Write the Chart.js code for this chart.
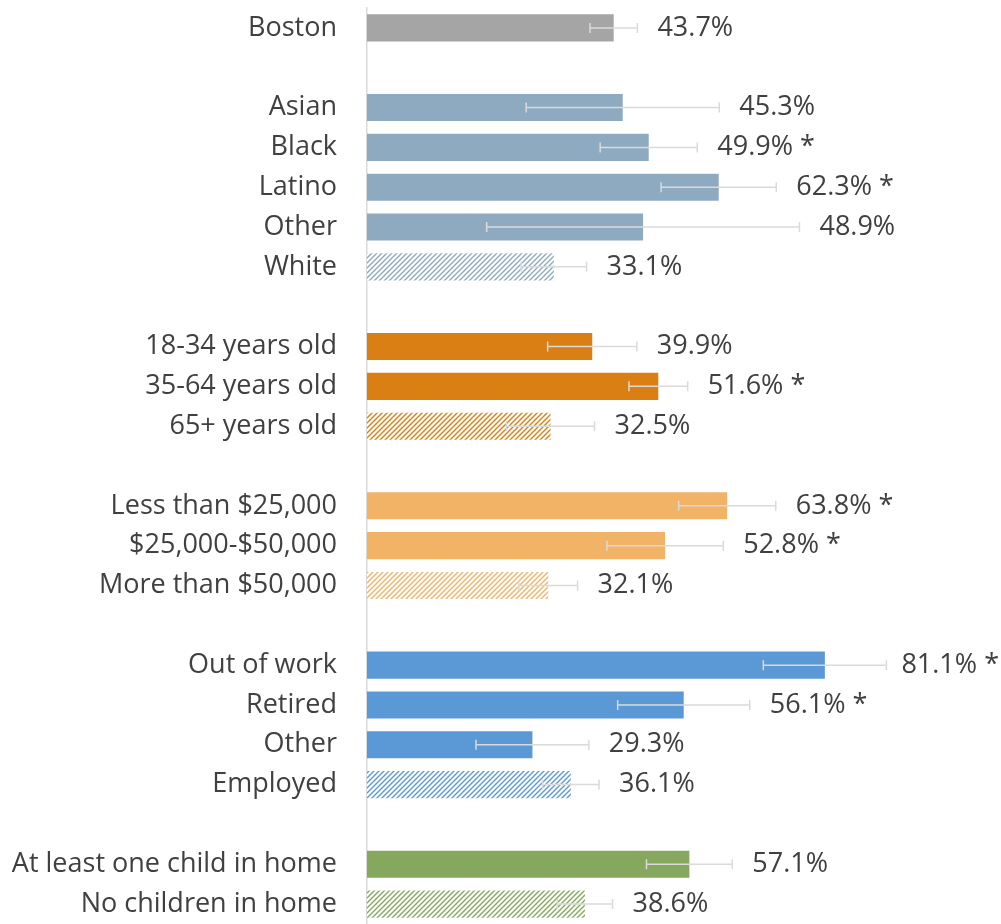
<!DOCTYPE html>
<html>
<head>
<meta charset="utf-8">
<script src="https://cdn.jsdelivr.net/npm/chart.js@4/dist/chart.umd.min.js"></script>
<style>
  html, body { margin: 0; padding: 0; background: #fff; overflow: hidden; }
  #wrap { width: 1001px; height: 924px; position: relative; }
</style>
</head>
<body>
<div id="wrap"><canvas id="rateChart"></canvas></div>
<script>
// Rows per subgroup; the empty rows are the gaps between groups
const categories = [
  "Boston", "",
  "Asian", "Black", "Latino", "Other", "White", "",
  "18-34 years old", "35-64 years old", "65+ years old", "",
  "Less than $25,000", "$25,000-$50,000", "More than $50,000", "",
  "Out of work", "Retired", "Other", "Employed", "",
  "At least one child in home", "No children in home"
];

const percentages = [
  43.7, null,
  45.3, 49.9, 62.3, 48.9, 33.1, null,
  39.9, 51.6, 32.5, null,
  63.8, 52.8, 32.1, null,
  81.1, 56.1, 29.3, 36.1, null,
  57.1, 38.6
];

const marginOfError = [
  4.2, null,
  17.1, 8.6, 10.2, 27.7, 5.8, null,
  7.9, 5.2, 7.8, null,
  8.6, 10.3, 5.2, null,
  10.9, 11.7, 10.0, 5.0, null,
  7.6, 4.9
];

// "*" = significantly different from the group's reference row
const significant = [
  false, null,
  false, true, true, false, false, null,
  false, true, false, null,
  true, true, false, null,
  true, true, false, false, null,
  false, false
];

const groupIndex = [
  0, null,
  1, 1, 1, 1, 1, null,
  2, 2, 2, null,
  3, 3, 3, null,
  4, 4, 4, 4, null,
  5, 5
];

// reference rows get the hatched fill
const isReference = [
  false, null,
  false, false, false, false, true, null,
  false, false, true, null,
  false, false, true, null,
  false, false, false, true, null,
  false, true
];

const groupColors = ["#a5a5a5", "#8eaac1", "#d97f13", "#f1b366", "#5b98d6", "#85a75e"];

const FONT = "'Open Sans', 'Noto Sans', sans-serif";
const TEXT_COLOR = "#404040";


function hatch(color) {
  const size = 5;
  const c = document.createElement("canvas");
  c.width = size;
  c.height = size;
  const g = c.getContext("2d");
  g.fillStyle = "#fff";
  g.fillRect(0, 0, size, size);
  g.strokeStyle = color;
  g.lineWidth = 1.4;
  g.beginPath();
  g.moveTo(0, size); g.lineTo(size, 0);
  g.moveTo(-size, size); g.lineTo(size, -size);
  g.moveTo(0, 2 * size); g.lineTo(2 * size, 0);
  g.stroke();
  return g.createPattern(c, "repeat");
}


function barFills() {
  return groupIndex.map((grp, i) => {
    if (grp === null) return "transparent";
    return isReference[i] ? hatch(groupColors[grp]) : groupColors[grp];
  });
}


// whiskers for the margin of error, then the value label past the right cap
const errorBarPlugin = {
  id: "errorBars",
  afterDatasetsDraw(chart) {
    const { ctx, scales: { x, y } } = chart;
    ctx.save();
    ctx.lineWidth = 1.5;
    ctx.strokeStyle = "#dadada";
    ctx.font = "27px " + FONT;
    ctx.fillStyle = TEXT_COLOR;
    ctx.textBaseline = "middle";

    percentages.forEach((v, i) => {
      if (v === null) return;
      const yc = y.getPixelForValue(i);
      const lo = x.getPixelForValue(v - marginOfError[i]);
      const hi = x.getPixelForValue(v + marginOfError[i]);

      ctx.beginPath();
      ctx.moveTo(lo, yc); ctx.lineTo(hi, yc);
      ctx.moveTo(lo, yc - 5); ctx.lineTo(lo, yc + 5);
      ctx.moveTo(hi, yc - 5); ctx.lineTo(hi, yc + 5);
      ctx.stroke();

      const text = v.toFixed(1) + "%" + (significant[i] ? " *" : "");
      // keep long labels inside the canvas
      const tx = Math.min(hi + 20, chart.width - ctx.measureText(text).width - 2);
      ctx.fillText(text, tx, yc);
    });
    ctx.restore();
  }
};


function createRateChart() {
  const ctx = document.getElementById("rateChart").getContext("2d");

  return new Chart(ctx, {
    type: "bar",
    data: {
      labels: categories,
      datasets: [{
        data: percentages,
        backgroundColor: barFills(),
        barPercentage: 0.68,
        categoryPercentage: 1.0
      }]
    },
    options: {
      indexAxis: "y",
      responsive: true,
      maintainAspectRatio: false,
      animation: false,
      events: [],
      layout: { padding: { top: 8, bottom: 0, left: 0, right: 0 } },
      plugins: {
        legend: { display: false },
        tooltip: { enabled: false }
      },
      scales: {
        x: {
          display: false,
          min: 0,
          max: 112.3
        },
        y: {
          afterFit(scale) {
            scale.width = 367;
            scale.paddingTop = 0;
            scale.paddingBottom = 0;
          },
          grid: { display: false, drawTicks: false },
          border: { display: true, color: "#d9d9d9", width: 1.5 },
          ticks: {
            autoSkip: false,
            padding: 30,
            color: TEXT_COLOR,
            font: { family: FONT, size: 27 }
          }
        }
      }
    },
    plugins: [errorBarPlugin]
  });
}

createRateChart();
</script>
</body>
</html>
